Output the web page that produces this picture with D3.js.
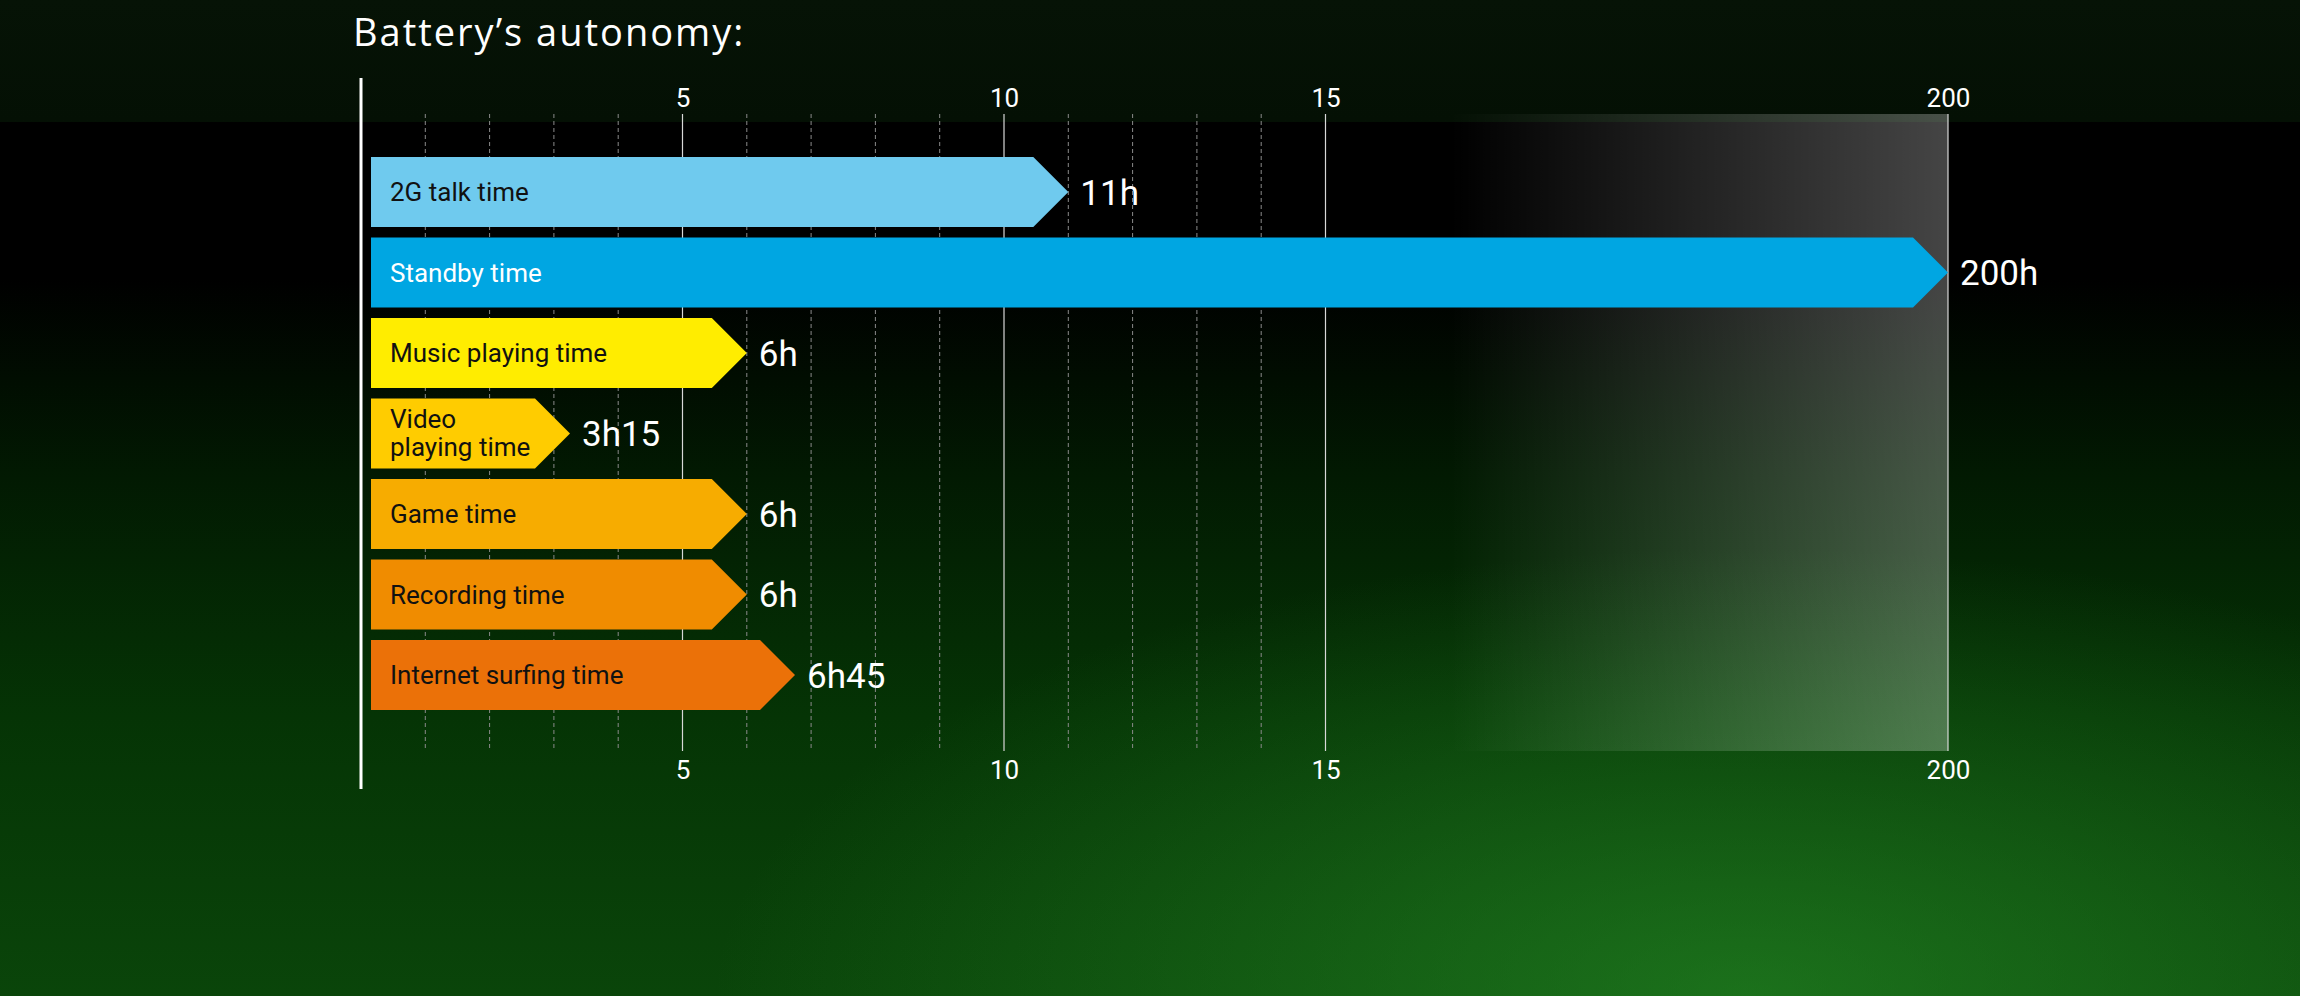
<!DOCTYPE html>
<html>
<head>
<meta charset="utf-8">
<script src="https://cdn.jsdelivr.net/npm/d3@7"></script>
<style>
  html, body { margin: 0; padding: 0; background: #000; overflow: hidden; }
  svg { display: block; }
</style>
</head>
<body>
<svg id="chart"></svg>
<script>
// Data
const categories = ['2G talk time', 'Standby time', 'Music playing time', 'Video playing time', 'Game time', 'Recording time', 'Internet surfing time']
const hours = [11, 200, 6, 3.25, 6, 6, 6.75]
const valueLabels = ['11h', '200h', '6h', '3h15', '6h', '6h', '6h45']
const barColors = ['#6fcaee', '#00a6e2', '#ffed00', '#ffcc00', '#f7ac00', '#f08c00', '#eb7108']
const labelColors = ['#111', '#fff', '#111', '#111', '#111', '#111', '#111']
const majorTicks = [5, 10, 15, 200]
const minorTicks = [1, 2, 3, 4, 6, 7, 8, 9, 11, 12, 13, 14]

const width = 2300
const height = 996

const svg = d3.select('#chart').attr('width', width).attr('height', height)
const defs = svg.append('defs')

// Background gradients
const bg = defs.append('linearGradient').attr('id', 'bg').attr('x1', 0).attr('y1', 0).attr('x2', 0).attr('y2', 1)
bg.append('stop').attr('offset', '0%').attr('stop-color', '#061306')
bg.append('stop').attr('offset', '12.2%').attr('stop-color', '#041004')
bg.append('stop').attr('offset', '12.3%').attr('stop-color', '#000')
bg.append('stop').attr('offset', '28%').attr('stop-color', '#000')
bg.append('stop').attr('offset', '48%').attr('stop-color', '#021a02')
bg.append('stop').attr('offset', '72%').attr('stop-color', '#053405')
bg.append('stop').attr('offset', '100%').attr('stop-color', '#0a450a')

const glow = defs.append('radialGradient').attr('id', 'glow')
  .attr('cx', 0.76).attr('cy', 1).attr('r', 0.45)
glow.append('stop').attr('offset', '0%').attr('stop-color', '#2a962a').attr('stop-opacity', 0.55)
glow.append('stop').attr('offset', '100%').attr('stop-color', '#2a962a').attr('stop-opacity', 0)

const shade = defs.append('linearGradient').attr('id', 'shade').attr('x1', 0).attr('y1', 0).attr('x2', 1).attr('y2', 0)
shade.append('stop').attr('offset', '0%').attr('stop-color', '#fff').attr('stop-opacity', 0)
shade.append('stop').attr('offset', '20%').attr('stop-color', '#fff').attr('stop-opacity', 0)
shade.append('stop').attr('offset', '100%').attr('stop-color', '#fff').attr('stop-opacity', 0.27)

svg.append('rect').attr('width', width).attr('height', height).attr('fill', 'url(#bg)')
svg.append('rect').attr('width', width).attr('height', height).attr('fill', 'url(#glow)')

// Title
svg.append('text')
  .attr('x', 353)
  .attr('y', 46)
  .attr('fill', '#fff')
  .style('font-family', "'Open Sans', sans-serif")
  .style('font-size', '38px')
  .style('letter-spacing', '2px')
  .text('Battery\u2019s autonomy:')

// Scales (broken axis: 0-15 linear, then 15-200 squeezed)
const gridTop = 114
const gridBottom = 751
const x = d3.scaleLinear().domain([0, 15, 200]).range([361, 1325.5, 1948])
const y = d3.scaleBand().domain(categories).range([157, 710]).paddingInner(0.13)

// Shaded area 15 -> 200
svg.append('rect')
  .attr('x', x(15))
  .attr('y', gridTop)
  .attr('width', x(200) - x(15))
  .attr('height', gridBottom - gridTop)
  .attr('fill', 'url(#shade)')

// Grid lines
svg.append('g').selectAll('line')
  .data(minorTicks)
  .join('line')
  .attr('x1', d => x(d)).attr('x2', d => x(d))
  .attr('y1', gridTop).attr('y2', gridBottom)
  .attr('stroke', '#8a8a8a')
  .attr('stroke-width', 1)
  .attr('stroke-dasharray', '4,3')

svg.append('g').selectAll('line')
  .data(majorTicks)
  .join('line')
  .attr('x1', d => x(d)).attr('x2', d => x(d))
  .attr('y1', gridTop).attr('y2', gridBottom)
  .attr('stroke', '#d8d8d8')
  .attr('stroke-width', 1.2)

// Axes labels top and bottom
const styleAxis = g => {
  g.select('.domain').remove()
  g.selectAll('.tick line').remove()
  g.selectAll('text')
    .attr('fill', '#fff')
    .style('font-family', 'Roboto, sans-serif')
    .style('font-size', '26px')
}

svg.append('g')
  .attr('transform', `translate(0, ${gridTop})`)
  .call(d3.axisTop(x).tickValues(majorTicks).tickSize(0).tickPadding(7))
  .call(styleAxis)

svg.append('g')
  .attr('transform', `translate(0, ${gridBottom})`)
  .call(d3.axisBottom(x).tickValues(majorTicks).tickSize(0).tickPadding(10))
  .call(styleAxis)

// Left axis line
svg.append('line')
  .attr('x1', x(0)).attr('x2', x(0))
  .attr('y1', 78).attr('y2', 789)
  .attr('stroke', '#fff')
  .attr('stroke-width', 3)

// Arrow bars
const barStart = x(0) + 10
const tip = 35
const arrow = (v, top, h) => {
  const end = x(v)
  return `M${barStart},${top} L${end - tip},${top} L${end},${top + h / 2} L${end - tip},${top + h} L${barStart},${top + h} Z`
}

const bars = svg.append('g').selectAll('g')
  .data(categories)
  .join('g')

bars.append('path')
  .attr('d', (d, i) => arrow(hours[i], y(d), y.bandwidth()))
  .attr('fill', (d, i) => barColors[i])

bars.append('text')
  .attr('x', barStart + 19)
  .attr('y', d => y(d) + y.bandwidth() / 2)
  .attr('fill', (d, i) => labelColors[i])
  .style('font-family', 'Roboto, sans-serif')
  .style('font-size', '26px')
  .each(function (d) {
    const t = d3.select(this)
    if (d === 'Video playing time') {
      t.append('tspan').attr('x', barStart + 19).attr('dy', '-0.22em').text('Video')
      t.append('tspan').attr('x', barStart + 19).attr('dy', '1.1em').text('playing time')
    } else {
      t.attr('dy', '0.36em').text(d)
    }
  })

bars.append('text')
  .attr('x', (d, i) => x(hours[i]) + 12)
  .attr('y', d => y(d) + y.bandwidth() / 2)
  .attr('dy', '0.36em')
  .attr('fill', '#fff')
  .style('font-family', 'Roboto, sans-serif')
  .style('font-size', '35px')
  .text((d, i) => valueLabels[i])
</script>
</body>
</html>
